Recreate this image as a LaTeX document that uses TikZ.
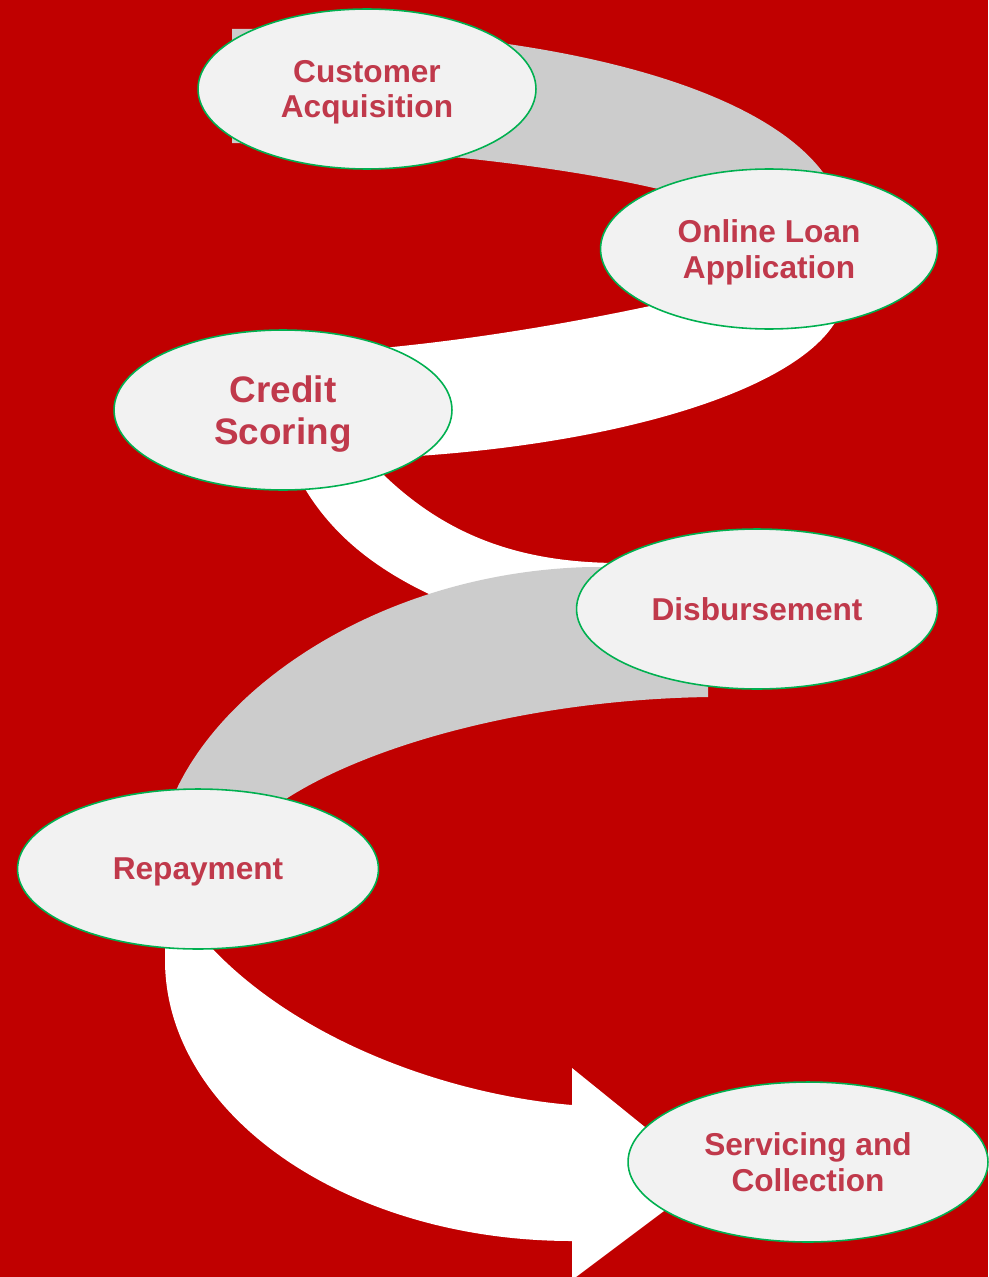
\documentclass[tikz,border=0pt]{standalone}
\usepackage{fontspec}
\setmainfont{Liberation Sans}
\usetikzlibrary{shapes.geometric}
\usetikzlibrary{backgrounds}

\definecolor{bgred}{HTML}{C00000}
\definecolor{bandgray}{HTML}{CCCCCC}
\definecolor{ovalfill}{HTML}{F2F2F2}
\definecolor{ovalline}{HTML}{00B050}
\definecolor{labelred}{HTML}{C0394B}

\begin{document}
\begin{tikzpicture}[x=0.02cm,y=-0.02cm,
    stage/.style={ellipse, draw=ovalline, line width=0.9pt, fill=ovalfill,
        inner sep=0pt, minimum height=3.2cm, text=labelred, align=center,
        text depth=0pt, font=\bfseries\fontsize{18}{20}\selectfont}]

        \useasboundingbox (0,0) rectangle (988,1277);

        \node[stage, minimum width=6.76cm] (acq) at (367,89) {Customer\\Acquisition};
        \node[stage, minimum width=6.74cm] (app) at (769,249) {Online Loan\\Application};
        \node[stage, minimum width=6.76cm,
            font=\bfseries\fontsize{21}{23.5}\selectfont] (score) at (283,410) {Credit\\Scoring};
        \node[stage, minimum width=7.22cm] (disb) at (757,609) {Disbursement};
        \node[stage, minimum width=7.22cm] (repay) at (198,869) {Repayment};
        \node[stage, minimum width=7.2cm] (serv) at (808,1162) {Servicing and\\Collection};

        \begin{scope}[on background layer]
        \fill[bgred] (0,0) rectangle (988,1277);

        % acq -> app
        \fill[bandgray] (232,143) -- (232,29) -- (290,29) .. controls (570,29) and (845,100) .. (845,235)
            -- (app.center) -- (700,200) .. controls (600,170) and (420,148) .. (232,143) -- cycle;
        % app -> score
        \fill[white] (app.center) -- (845,250) -- (845,290) arc[start angle=0, end angle=90, x radius=545, y radius=170]
            -- (score.center) -- (360,350) .. controls (480,340) and (600,318) .. (700,295) -- cycle;
        % score -> disb
        \fill[white] (score.center) -- (360,450) .. controls (430,530) and (510,563) .. (620,563)
            -- (disb.center) -- (560,640) .. controls (410,600) and (330,550) .. (290,460) -- cycle;
        % disb -> repay
        \fill[bandgray] (708,697) -- (708,567) -- (590,567) .. controls (380,572) and (210,690) .. (168,810)
            -- (repay.center) -- (270,810) .. controls (350,750) and (520,700) .. (708,697) -- cycle;
        % repay -> serv
        \fill[white] (repay.center) -- (165,930) -- (165,960) .. controls (165,1115) and (347,1241) .. (572,1241)
            -- (572,1280) -- (708,1178) -- (572,1068)
            -- (572,1105) .. controls (450,1095) and (290,1040) .. (200,935) -- cycle;
        \end{scope}

    \end{tikzpicture}
\end{document}
